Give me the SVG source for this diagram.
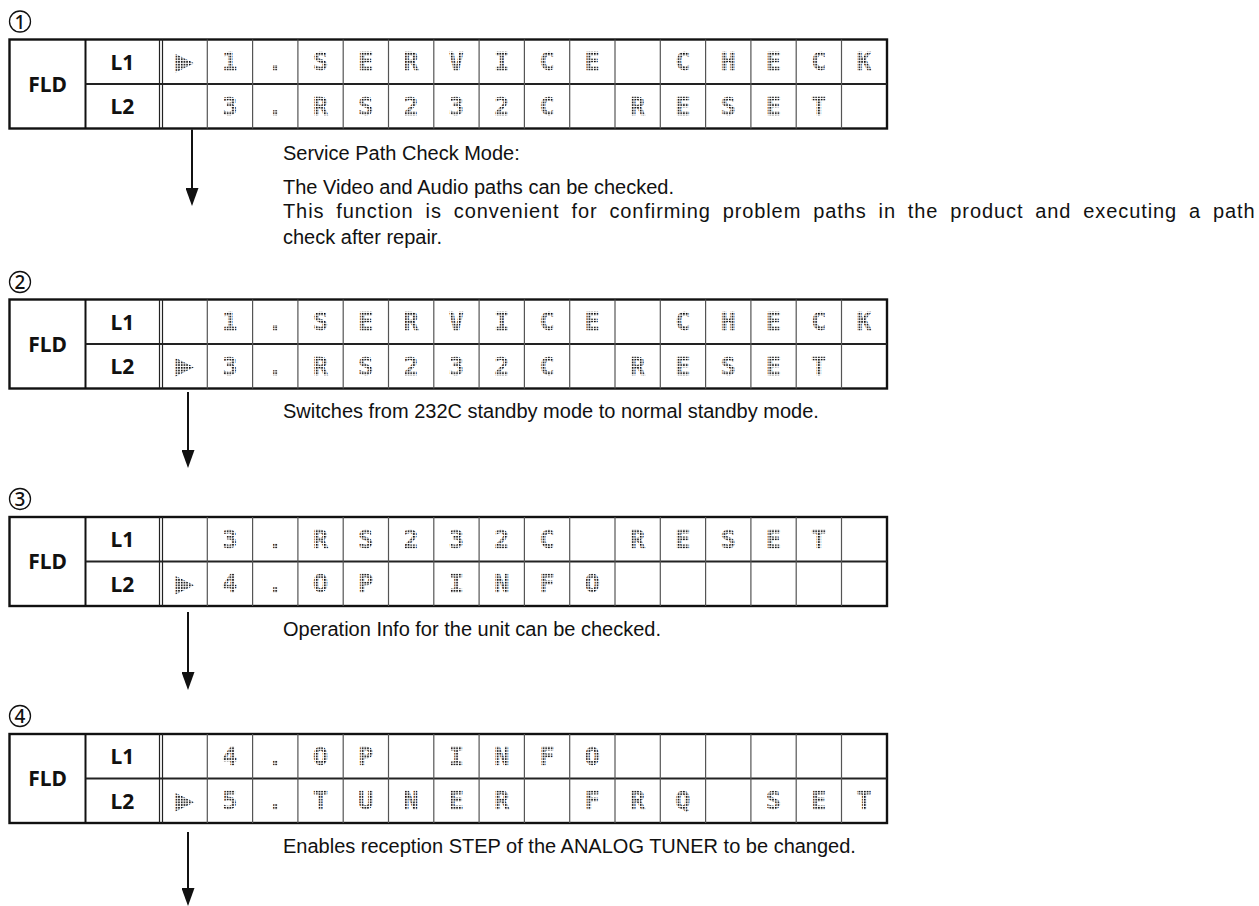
<svg xmlns="http://www.w3.org/2000/svg" width="1259" height="906" viewBox="0 0 1259 906">
<defs>
<style>
.bg{fill:#fff}
.outer{fill:#fff;stroke:#111;stroke-width:2.4}
.thick{stroke:#111;stroke-width:2}
.mid{stroke:#222;stroke-width:2}
.dbl{stroke:#222;stroke-width:1.2}
.cell{stroke:#555;stroke-width:1.2}
.lab{font-family:"Noto Sans","Open Sans",sans-serif;font-weight:700;font-size:21px;fill:#111;text-anchor:middle}
.num{font-family:"Noto Sans","Open Sans",sans-serif;font-weight:500;font-size:19px;fill:#111;text-anchor:middle}
.circ{fill:none;stroke:#111;stroke-width:1.3}
.dm{font-family:"DejaVu Sans Mono",monospace;font-weight:700;font-size:25px;fill:url(#dots);stroke:url(#dots);stroke-width:0.4;text-anchor:middle}
.tri{font-size:30px}
.desc{font-family:"Liberation Sans",Arial,sans-serif;font-size:20px;fill:#111}
.arr{stroke:#111;stroke-width:2;fill:none;marker-end:url(#ah)}
</style>
<pattern id="dots" width="2.7" height="2.7" patternUnits="userSpaceOnUse">
<rect width="1.6" height="1.6" fill="#000"/>
</pattern>
<marker id="ah" markerUnits="userSpaceOnUse" markerWidth="18" markerHeight="13" viewBox="0 0 18 13" refX="14" refY="6.5" orient="auto">
<path d="M0,0 L18,6.5 L0,13 z" fill="#111"/>
</marker>
<g id="grid">
<rect class="outer" x="9.5" y="0" width="877.5" height="89"/>
<line class="thick" x1="85.5" y1="0" x2="85.5" y2="89"/>
<line class="mid" x1="85.5" y1="44.5" x2="887" y2="44.5"/>
<line class="dbl" x1="159.5" y1="0" x2="159.5" y2="89"/>
<line class="dbl" x1="162.5" y1="0" x2="162.5" y2="89"/>
<line class="cell" x1="207.3" y1="0" x2="207.3" y2="89"/>
<line class="cell" x1="252.6" y1="0" x2="252.6" y2="89"/>
<line class="cell" x1="297.9" y1="0" x2="297.9" y2="89"/>
<line class="cell" x1="343.2" y1="0" x2="343.2" y2="89"/>
<line class="cell" x1="388.5" y1="0" x2="388.5" y2="89"/>
<line class="cell" x1="433.8" y1="0" x2="433.8" y2="89"/>
<line class="cell" x1="479.1" y1="0" x2="479.1" y2="89"/>
<line class="cell" x1="524.4" y1="0" x2="524.4" y2="89"/>
<line class="cell" x1="569.7" y1="0" x2="569.7" y2="89"/>
<line class="cell" x1="615" y1="0" x2="615" y2="89"/>
<line class="cell" x1="660.3" y1="0" x2="660.3" y2="89"/>
<line class="cell" x1="705.6" y1="0" x2="705.6" y2="89"/>
<line class="cell" x1="750.9" y1="0" x2="750.9" y2="89"/>
<line class="cell" x1="796.2" y1="0" x2="796.2" y2="89"/>
<line class="cell" x1="841.5" y1="0" x2="841.5" y2="89"/>
<text class="lab" x="47.5" y="52">FLD</text>
<text class="lab" x="122.5" y="30">L1</text>
<text class="lab" x="122.5" y="74.5">L2</text>
</g>
</defs>
<rect class="bg" x="0" y="0" width="1259" height="906"/>

<g id="step1">
<circle class="circ" cx="20" cy="21.5" r="10.5"/>
<text class="num" x="20" y="28.5">1</text>
<g transform="translate(0,39.5)">
<use href="#grid"/>
<g class="dm">
<text class="tri" x="184.6" y="31">▶</text><text x="229.9" y="30.5">1</text><text x="275.2" y="30.5">.</text><text x="320.5" y="30.5">S</text><text x="365.8" y="30.5">E</text><text x="411.1" y="30.5">R</text><text x="456.4" y="30.5">V</text><text x="501.7" y="30.5">I</text><text x="547" y="30.5">C</text><text x="592.3" y="30.5">E</text><text x="682.9" y="30.5">C</text><text x="728.2" y="30.5">H</text><text x="773.5" y="30.5">E</text><text x="818.8" y="30.5">C</text><text x="864.1" y="30.5">K</text>
<text x="229.9" y="75">3</text><text x="275.2" y="75">.</text><text x="320.5" y="75">R</text><text x="365.8" y="75">S</text><text x="411.1" y="75">2</text><text x="456.4" y="75">3</text><text x="501.7" y="75">2</text><text x="547" y="75">C</text><text x="637.6" y="75">R</text><text x="682.9" y="75">E</text><text x="728.2" y="75">S</text><text x="773.5" y="75">E</text><text x="818.8" y="75">T</text>
</g>
</g>
<text class="desc" x="283" y="160">Service Path Check Mode:</text>
<text class="desc" x="283" y="194">The Video and Audio paths can be checked.</text>
<text class="desc" x="283" y="218" letter-spacing="0.9" word-spacing="5.5">This function is convenient for confirming problem paths in the product and executing a path</text>
<text class="desc" x="283" y="244">check after repair.</text>
</g>

<g id="step2">
<circle class="circ" cx="20" cy="282" r="10.5"/>
<text class="num" x="20" y="289">2</text>
<g transform="translate(0,299.5)">
<use href="#grid"/>
<g class="dm">
<text x="229.9" y="30.5">1</text><text x="275.2" y="30.5">.</text><text x="320.5" y="30.5">S</text><text x="365.8" y="30.5">E</text><text x="411.1" y="30.5">R</text><text x="456.4" y="30.5">V</text><text x="501.7" y="30.5">I</text><text x="547" y="30.5">C</text><text x="592.3" y="30.5">E</text><text x="682.9" y="30.5">C</text><text x="728.2" y="30.5">H</text><text x="773.5" y="30.5">E</text><text x="818.8" y="30.5">C</text><text x="864.1" y="30.5">K</text>
<text class="tri" x="184.6" y="75.5">▶</text><text x="229.9" y="75">3</text><text x="275.2" y="75">.</text><text x="320.5" y="75">R</text><text x="365.8" y="75">S</text><text x="411.1" y="75">2</text><text x="456.4" y="75">3</text><text x="501.7" y="75">2</text><text x="547" y="75">C</text><text x="637.6" y="75">R</text><text x="682.9" y="75">E</text><text x="728.2" y="75">S</text><text x="773.5" y="75">E</text><text x="818.8" y="75">T</text>
</g>
</g>
<text class="desc" x="283" y="418">Switches from 232C standby mode to normal standby mode.</text>
</g>

<g id="step3">
<circle class="circ" cx="20" cy="499" r="10.5"/>
<text class="num" x="20" y="506">3</text>
<g transform="translate(0,517)">
<use href="#grid"/>
<g class="dm">
<text x="229.9" y="30.5">3</text><text x="275.2" y="30.5">.</text><text x="320.5" y="30.5">R</text><text x="365.8" y="30.5">S</text><text x="411.1" y="30.5">2</text><text x="456.4" y="30.5">3</text><text x="501.7" y="30.5">2</text><text x="547" y="30.5">C</text><text x="637.6" y="30.5">R</text><text x="682.9" y="30.5">E</text><text x="728.2" y="30.5">S</text><text x="773.5" y="30.5">E</text><text x="818.8" y="30.5">T</text>
<text class="tri" x="184.6" y="75.5">▶</text><text x="229.9" y="75">4</text><text x="275.2" y="75">.</text><text x="320.5" y="75">O</text><text x="365.8" y="75">P</text><text x="456.4" y="75">I</text><text x="501.7" y="75">N</text><text x="547" y="75">F</text><text x="592.3" y="75">O</text>
</g>
</g>
<text class="desc" x="283" y="636">Operation Info for the unit can be checked.</text>
</g>

<g id="step4">
<circle class="circ" cx="20" cy="716" r="10.5"/>
<text class="num" x="20" y="723">4</text>
<g transform="translate(0,734)">
<use href="#grid"/>
<g class="dm">
<text x="229.9" y="30.5">4</text><text x="275.2" y="30.5">.</text><text x="320.5" y="30.5">O</text><text x="365.8" y="30.5">P</text><text x="456.4" y="30.5">I</text><text x="501.7" y="30.5">N</text><text x="547" y="30.5">F</text><text x="592.3" y="30.5">O</text>
<text class="tri" x="184.6" y="75.5">▶</text><text x="229.9" y="75">5</text><text x="275.2" y="75">.</text><text x="320.5" y="75">T</text><text x="365.8" y="75">U</text><text x="411.1" y="75">N</text><text x="456.4" y="75">E</text><text x="501.7" y="75">R</text><text x="592.3" y="75">F</text><text x="637.6" y="75">R</text><text x="682.9" y="75">Q</text><text x="773.5" y="75">S</text><text x="818.8" y="75">E</text><text x="864.1" y="75">T</text>
</g>
</g>
<text class="desc" x="283" y="853">Enables reception STEP of the ANALOG TUNER to be changed.</text>
</g>

<g id="connectors">
<line class="arr" x1="192" y1="129.5" x2="192" y2="202"/>
<line class="arr" x1="188" y1="392" x2="188" y2="464"/>
<line class="arr" x1="188" y1="612" x2="188" y2="686"/>
<line class="arr" x1="188" y1="832" x2="188" y2="902"/>
</g>
</svg>
